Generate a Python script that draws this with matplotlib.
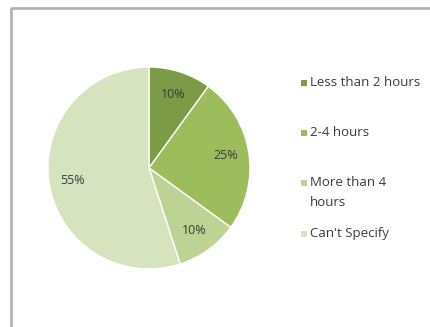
import matplotlib.pyplot as plt
from matplotlib.patches import Rectangle

# survey answers, clockwise from 12 o'clock
categories = ["Less than 2 hours", "2-4 hours", "More than 4\nhours", "Can't Specify"]
shares = [10, 25, 10, 55]
colors = ["#7c9b46", "#9dbc5c", "#bcd393", "#d5e3bf"]

plt.rcParams["font.family"] = ["Open Sans", "DejaVu Sans"]

W, H = 430, 327
fig = plt.figure(figsize=(W / 100, H / 100), dpi=100)
fig.patch.set_facecolor("white")

# outer chart frame (only top and left edges are visible)
frame = fig.add_axes([0, 0, 1, 1])
frame.set_xlim(0, W)
frame.set_ylim(H, 0)
frame.axis("off")
frame.plot([10.5, 10.5, W], [H, 7.5, 7.5], color="#b4b4b4", lw=2, solid_capstyle="butt")

# pie, centred at (149, 168) px with radius ~101 px
cx, cy, r = 149, 168, 101
ax = fig.add_axes([(cx - r - 2) / W, 1 - (cy + r + 2) / H, (2 * r + 4) / W, (2 * r + 4) / H])
wedges, _, autotexts = ax.pie(
    shares, colors=colors, startangle=90, counterclock=False,
    autopct="%d%%", pctdistance=0.77,
    wedgeprops=dict(edgecolor="white", linewidth=1.0),
    textprops=dict(fontsize=9, color="#3a3a3a"),
)
ax.set_aspect("equal")
ax.set_xlim(-1.02, 1.02)
ax.set_ylim(-1.02, 1.02)

# legend, drawn as squares with labels
text_kw = dict(fontsize=9.5, color="#3a3a3a", va="center")
rows_y = [83, 133, 183, 234]
for name, col, y in zip(categories, colors, rows_y):
    frame.add_patch(Rectangle((301, y - 3), 5.5, 5.5, facecolor=col, edgecolor="none"))
    lines = name.split("\n")
    frame.text(309.5, y, lines[0], **text_kw)
    if len(lines) > 1:
        frame.text(309.5, y + 20, lines[1], **text_kw)

fig.savefig("out.png", dpi=100)
